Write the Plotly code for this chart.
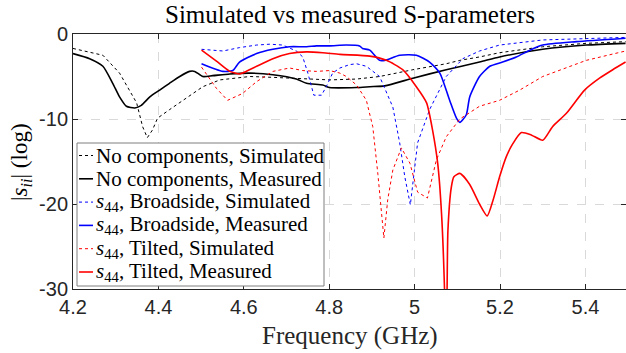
import plotly.graph_objects as go

# ---------------- data ----------------
nc_sim_f = [4.200, 4.270, 4.309, 4.328, 4.349, 4.363, 4.374, 4.386, 4.398, 4.426, 4.466, 4.504,
            4.544, 4.614, 4.668, 4.747, 4.801, 4.864, 4.918, 4.996, 5.074, 5.106, 5.152, 5.199,
            5.300, 5.402, 5.494]
nc_sim_db = [-1.7, -2.5, -4.6, -6.2, -8.1, -10.9, -12.2, -11.3, -9.9, -8.9, -7.5, -6.2,
             -5.4, -5.0, -5.1, -5.3, -5.4, -5.3, -5.0, -4.2, -3.5, -3.1, -2.7, -2.2,
             -1.5, -1.1, -0.9]

nc_meas_f = [4.200, 4.239, 4.270, 4.293, 4.309, 4.325, 4.345, 4.360, 4.380, 4.403, 4.426, 4.450,
             4.473, 4.485, 4.504, 4.527, 4.567, 4.614, 4.668, 4.723, 4.747, 4.785, 4.801, 4.864,
             4.895, 4.930, 4.996, 5.074, 5.152, 5.199, 5.300, 5.402, 5.494]
nc_meas_db = [-2.3, -2.9, -3.8, -5.8, -7.4, -8.5, -8.7, -8.4, -7.4, -6.6, -5.8, -5.0,
              -4.4, -4.4, -5.0, -4.9, -4.7, -4.6, -4.8, -5.3, -5.8, -6.0, -6.3, -6.3,
              -6.2, -6.1, -5.2, -4.2, -3.3, -2.7, -1.8, -1.3, -1.1]

bs_sim_f = [4.501, 4.551, 4.590, 4.630, 4.661, 4.691, 4.723, 4.738, 4.750, 4.764, 4.782, 4.793,
            4.808, 4.825, 4.848, 4.864, 4.887, 4.918, 4.949, 4.965, 4.977, 4.990, 5.007, 5.035,
            5.074, 5.113, 5.152, 5.199, 5.300, 5.402, 5.494]
bs_sim_db = [-1.8, -2.0, -1.6, -1.3, -1.2, -1.3, -2.0, -2.7, -4.6, -7.2, -7.2, -6.2,
             -4.6, -4.0, -3.6, -3.5, -3.8, -5.0, -8.6, -12.8, -16.8, -20.1, -12.8, -8.9,
             -5.0, -2.9, -2.0, -1.3, -0.7, -0.5, -0.4]

bs_meas_f = [4.501, 4.551, 4.574, 4.590, 4.630, 4.668, 4.707, 4.747, 4.770, 4.801, 4.840, 4.871,
             4.878, 4.895, 4.918, 4.930, 4.965, 5.004, 5.035, 5.059, 5.082, 5.098, 5.106, 5.121,
             5.129, 5.152, 5.176, 5.206, 5.238, 5.270, 5.300, 5.379, 5.494]
bs_meas_db = [-3.5, -4.4, -4.3, -3.3, -2.3, -1.8, -1.5, -1.5, -1.4, -1.4, -1.3, -1.4,
              -1.7, -1.9, -3.1, -3.1, -2.5, -2.5, -3.3, -4.6, -7.8, -9.9, -10.4, -9.5,
              -7.4, -5.0, -3.8, -3.3, -2.7, -1.9, -1.3, -0.9, -0.5]

tl_sim_f = [4.501, 4.536, 4.562, 4.597, 4.630, 4.668, 4.707, 4.738, 4.770, 4.801, 4.825, 4.840,
            4.864, 4.887, 4.902, 4.914, 4.928, 4.937, 4.949, 4.969, 4.989, 5.007, 5.030, 5.051,
            5.074, 5.106, 5.152, 5.199, 5.246, 5.300, 5.402, 5.494]
tl_sim_db = [-3.9, -6.4, -7.8, -7.0, -5.6, -4.4, -4.0, -4.3, -4.4, -4.3, -4.6, -5.0,
             -6.0, -7.8, -10.9, -16.5, -24.0, -19.5, -16.0, -13.4, -15.2, -18.6, -19.3, -14.8,
             -12.1, -10.0, -8.5, -7.8, -6.6, -5.0, -3.1, -2.0]

tl_meas_f = [4.501, 4.536, 4.567, 4.590, 4.597, 4.630, 4.668, 4.707, 4.747, 4.785, 4.825, 4.895,
             4.934, 4.972, 5.004, 5.028, 5.042, 5.054, 5.063, 5.070, 5.073, 5.076, 5.078, 5.086,
             5.092, 5.106, 5.129, 5.152, 5.170, 5.184, 5.199, 5.215, 5.230, 5.250, 5.274, 5.300,
             5.323, 5.356, 5.398, 5.433, 5.464, 5.494]
tl_meas_db = [-1.9, -3.2, -4.4, -4.7, -4.6, -3.8, -2.9, -2.3, -2.1, -2.2, -2.4, -2.6,
              -3.1, -4.2, -6.2, -8.1, -11.3, -15.2, -21.1, -30.0, -38.0, -30.0, -23.1, -18.0,
              -16.8, -16.4, -17.7, -20.0, -21.4, -19.5, -16.8, -14.4, -12.9, -11.6, -11.9, -12.5,
              -10.9, -9.3, -6.6, -5.2, -4.2, -3.3]

x_ticks = [4.2, 4.4, 4.6, 4.8, 5.0, 5.2, 5.4]
x_tick_labels = ["4.2", "4.4", "4.6", "4.8", "5", "5.2", "5.4"]
y_ticks = [0, -10, -20, -30]
y_tick_labels = ["0", "-10", "-20", "-30"]

legend_names = [
    "No components, Simulated",
    "No components, Measured",
    "<i>s</i><sub>44</sub>, Broadside, Simulated",
    "<i>s</i><sub>44</sub>, Broadside, Measured",
    "<i>s</i><sub>44</sub>, Tilted, Simulated",
    "<i>s</i><sub>44</sub>, Tilted, Measured",
]

BLACK = "#000000"
BLUE = "#0000ff"
RED = "#ff0000"

series = [
    (nc_sim_f, nc_sim_db, BLACK, "dot", 1.0, "linear"),
    (nc_meas_f, nc_meas_db, BLACK, "solid", 1.6, "spline"),
    (bs_sim_f, bs_sim_db, BLUE, "dot", 1.0, "linear"),
    (bs_meas_f, bs_meas_db, BLUE, "solid", 1.6, "spline"),
    (tl_sim_f, tl_sim_db, RED, "dot", 1.0, "linear"),
    (tl_meas_f, tl_meas_db, RED, "solid", 1.6, "spline"),
]

W, H = 626, 353
L, R, T, B = 73, 0, 34, 64
PW, PH = W - L - R, H - T - B

def px(x):
    return (x - L) / PW

def py(y):
    return (H - B - y) / PH

fig = go.Figure()
for (f, db, col, dash, wid, shape), name in zip(series, legend_names):
    fig.add_trace(go.Scatter(
        x=f, y=db, mode="lines", name=name, showlegend=False,
        line=dict(color=col, dash=dash, width=wid, shape=shape, smoothing=0.6),
    ))

SERIF = "Liberation Serif, Times New Roman, serif"
SANS = "Liberation Sans, Arial, sans-serif"

# manual MATLAB-style legend
shapes = [dict(type="rect", xref="paper", yref="paper", layer="above",
               x0=px(77), x1=px(324), y0=py(286), y1=py(143),
               fillcolor="white", line=dict(color="#7f7f7f", width=1))]
annotations = []
row0, drow = 155.5, 23.3
for i, ((f, db, col, dash, wid, shape), name) in enumerate(zip(series, legend_names)):
    yy = row0 + i * drow
    shapes.append(dict(type="line", xref="paper", yref="paper", layer="above",
                       x0=px(79), x1=px(93), y0=py(yy), y1=py(yy),
                       line=dict(color=col, width=wid, dash=dash)))
    annotations.append(dict(xref="paper", yref="paper", x=px(93.5), y=py(yy),
                            xanchor="left", yanchor="middle", showarrow=False,
                            text=name, font=dict(family=SERIF, size=21, color="#000")))

annotations.append(dict(xref="paper", yref="paper", x=px(21), y=py(162),
                        xanchor="center", yanchor="middle", showarrow=False, textangle=-90,
                        text="|<i>s</i><sub><i>ii</i></sub>| (log)",
                        font=dict(family=SERIF, size=23, color="#000")))
annotations.append(dict(xref="paper", yref="paper", x=px(350), y=py(336),
                        xanchor="center", yanchor="middle", showarrow=False,
                        text="Frequency (GHz)",
                        font=dict(family=SERIF, size=25, color="#262626")))
annotations.append(dict(xref="paper", yref="paper", x=px(350), y=py(14),
                        xanchor="center", yanchor="middle", showarrow=False,
                        text="Simulated vs measured S-parameters",
                        font=dict(family=SERIF, size=25, color="#000")))

axis_common = dict(
    showline=True, linecolor="#262626", linewidth=1, mirror="ticks",
    ticks="inside", ticklen=5, tickwidth=1, tickcolor="#262626",
    showgrid=True, gridcolor="#d9d9d9", griddash="dash", gridwidth=1,
    zeroline=False, tickfont=dict(family=SANS, size=20, color="#262626"),
)

fig.update_layout(
    width=W, height=H,
    margin=dict(l=L, r=R, t=T, b=B),
    plot_bgcolor="white", paper_bgcolor="white",
    xaxis=dict(range=[4.2, 5.495], tickvals=x_ticks, ticktext=x_tick_labels, **axis_common),
    yaxis=dict(range=[-30, 0], tickvals=y_ticks, ticktext=y_tick_labels, **axis_common),
    shapes=shapes, annotations=annotations, showlegend=False,
)

fig.write_html("out.html")
